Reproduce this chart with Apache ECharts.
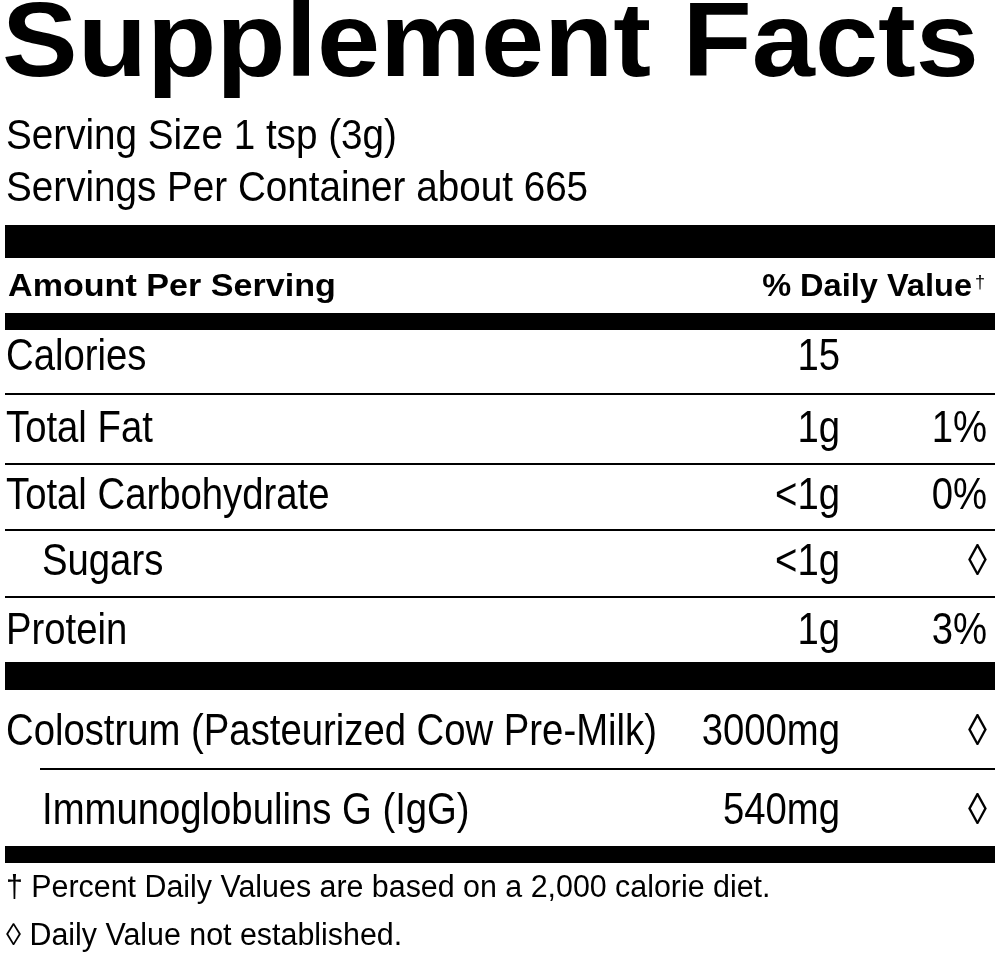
<!DOCTYPE html>
<html><head><meta charset="utf-8">
<script src="https://cdn.jsdelivr.net/npm/echarts@6/dist/echarts.min.js"></script>
<style>html,body{margin:0;background:#fff}#c{width:1000px;height:957px}</style>
</head><body><div id="c"></div>
<script>
// label content
var title = 'Supplement Facts';
var servingLines = ['Serving Size 1 tsp (3g)', 'Servings Per Container about 665'];
var nutrients = ['Calories', 'Total Fat', 'Total Carbohydrate', 'Sugars', 'Protein', 'Colostrum (Pasteurized Cow Pre-Milk)', 'Immunoglobulins G (IgG)'];
var amounts = ['15', '1g', '<1g', '<1g', '1g', '3000mg', '540mg'];
var dailyValues = ['', '1%', '0%', '\u25CA', '3%', '\u25CA', '\u25CA'];
var indented = [false, false, false, true, false, false, true];
var footnotes = ['\u2020 Percent Daily Values are based on a 2,000 calorie diet.', '\u25CA Daily Value not established.'];

var sans = '"Liberation Sans", Arial, sans-serif';
var rowY = [358, 430, 497, 563, 632, 733, 812];
var g = [];
function txt(x, y, s, size, opts) {
  opts = opts || {};
  g.push({type: 'text', x: x, y: y, scaleX: opts.sx || 1, style: {text: s, fontSize: size, fontFamily: sans,
    fontWeight: opts.weight || 'normal', fill: '#000', textAlign: opts.align || 'left', textVerticalAlign: 'middle'}});
}
function bar(y, h, x0) {
  x0 = x0 || 5;
  g.push({type: 'rect', shape: {x: x0, y: y, width: 995 - x0, height: h}, style: {fill: '#000'}});
}
txt(2, 47, title, 106, {weight: 'bold', sx: 1.07});
servingLines.forEach(function (s, i) { txt(6, 137 + i * 52, s, 42, {sx: 0.92}); });
bar(225, 33);
txt(8, 287, 'Amount Per Serving', 31, {weight: 'bold', sx: 1.1});
txt(972, 287, '% Daily Value', 31, {weight: 'bold', align: 'right', sx: 1.05});
txt(975, 283, '\u2020', 18);
bar(313, 17);
var sepAfter = [[393, 2, 5], [463, 2, 5], [529, 2, 5], [596, 2, 5], [662, 28, 5], [768, 2, 40], [846, 17, 5]];
nutrients.forEach(function (n, i) {
  txt(indented[i] ? 42 : 6, rowY[i], n, 44, {sx: 0.87});
  txt(840, rowY[i], amounts[i], 44, {align: 'right', sx: 0.87});
  if (dailyValues[i]) txt(987, rowY[i], dailyValues[i], 44, {align: 'right', sx: 0.87});
  bar(sepAfter[i][0], sepAfter[i][1], sepAfter[i][2]);
});
footnotes.forEach(function (s, i) { txt(6, 888 + i * 48, s, 31, {sx: 0.98}); });

var chart = echarts.init(document.getElementById('c'));
chart.setOption({animation: false, graphic: g});
</script></body></html>
